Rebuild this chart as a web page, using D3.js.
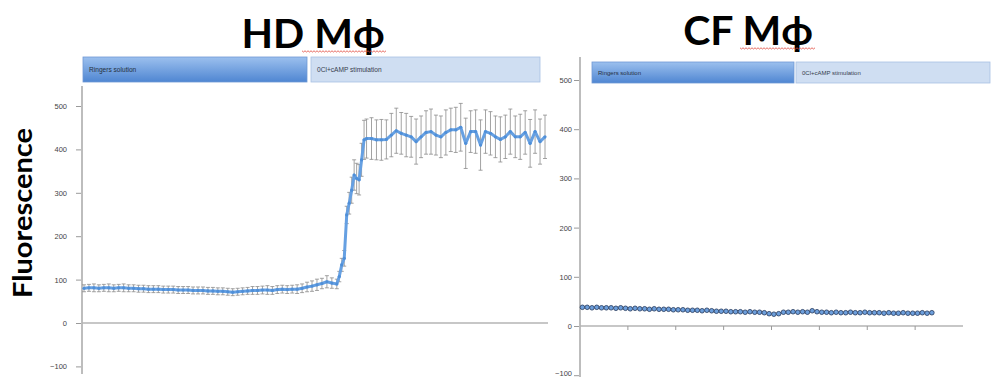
<!DOCTYPE html>
<html>
<head>
<meta charset="utf-8">
<script src="https://cdn.jsdelivr.net/npm/d3@7"></script>
<style>
  html, body { margin: 0; padding: 0; background: #fff; }
  svg { display: block; }
</style>
</head>
<body>
<svg id="chart" width="994" height="377"></svg>
<script>
// ---- data -----------------------------------------------------------------
const yTicks = [-100, 0, 100, 200, 300, 400, 500];
const phaseLabels = ["Ringers solution", "0Cl+cAMP stimulation"];
const panelTitles = ["HD M\u03d5", "CF M\u03d5"];
const axisTitle = "Fluorescence";

// HD macrophages: time index, mean fluorescence and error
const hdTime = [
  0, 1, 2, 3, 4, 5, 6, 7, 8, 9, 10,
  11, 12, 13, 14, 15, 16, 17, 18, 19, 20,
  21, 22, 23, 24, 25, 26, 27, 28, 29, 30,
  31, 32, 33, 34, 35, 36, 37, 38, 39, 40,
  41, 42, 43, 44, 45, 46, 47, 48, 49, 50, 51,
  51.5, 52, 52.5, 53, 53.5, 54, 54.5, 55, 55.5, 56, 56.5,
  57, 58, 59, 60, 61, 62, 63, 64, 65, 66, 67, 68, 69, 70, 71, 72, 73, 74,
  75, 76, 77, 78, 79, 80, 81, 82, 83, 84, 85, 86, 87, 88, 89, 90, 91, 92, 93
];
const hdMean = [
  80, 81, 81, 80, 81, 81, 80, 81, 81, 80, 80,
  79, 79, 78, 78, 78, 77, 77, 77, 76, 76,
  76, 75, 75, 75, 74, 74, 73, 73, 72, 71,
  72, 73, 74, 75, 75, 76, 76, 75, 77, 78,
  77, 78, 78, 80, 83, 85, 88, 91, 95, 92, 90,
  107, 134, 149, 249, 276, 306, 341, 333, 330, 376, 422,
  425, 425, 422, 422, 423, 433, 443, 437, 433, 429, 418, 429, 439, 441, 433, 429, 439, 445,
  445, 451, 414, 441, 441, 410, 441, 437, 429, 423, 429, 441, 429, 429, 439, 414, 441, 418, 429
];
const hdErr = [
  8, 8, 9, 8, 8, 9, 8, 8, 9, 8, 8,
  8, 8, 8, 8, 8, 8, 8, 8, 8, 8,
  8, 8, 8, 8, 8, 8, 8, 8, 8, 8,
  8, 8, 8, 9, 9, 9, 10, 9, 9, 9,
  9, 9, 10, 10, 11, 12, 13, 12, 14, 12, 11,
  12, 15, 18, 20, 25, 30, 35, 35, 35, 38, 45,
  45, 48, 46, 47, 45, 50, 52, 48, 50, 47, 52, 48, 50, 52, 46, 48, 52, 50,
  52, 55, 58, 48, 50, 58, 50, 50, 48, 52, 50, 52, 48, 52, 50, 55, 50, 52, 50
];

// CF macrophages: mean fluorescence per time point
const cfMean = [
  38, 38, 37, 38, 37, 37, 37, 36, 37,
  36, 35, 36, 35, 35, 34, 35, 34, 34, 34,
  33, 33, 33, 32, 32, 32, 31, 32, 31,
  30, 30, 30, 29, 29, 29, 28, 29, 28, 28, 27,
  25, 24, 25,
  28, 28, 29, 28, 29, 28, 31, 29, 28,
  28, 27, 28, 27, 27, 28, 27, 27, 28, 27,
  27, 27, 26, 27, 26, 26, 27, 26, 26, 26, 27, 26, 27
];
const cfErr = [
  4, 4, 4, 4, 4, 4, 4, 4, 4,
  4, 4, 4, 4, 4, 4, 4, 4, 4, 4,
  4, 4, 4, 4, 4, 4, 4, 4, 4,
  4, 4, 4, 4, 4, 4, 4, 4, 4, 4, 4,
  4, 4, 4,
  4, 4, 4, 4, 4, 4, 4, 4, 4,
  4, 4, 4, 4, 4, 4, 4, 4, 4, 4,
  4, 4, 4, 4, 4, 4, 4, 4, 4, 4, 4, 4, 4
];
const cfCategoryCount = 80;
const cfTickEvery = 10;

// ---- drawing --------------------------------------------------------------
const svg = d3.select("#chart");
svg.append("rect").attr("width", 994).attr("height", 377).attr("fill", "#fff");

const defs = svg.append("defs");
const grad = defs.append("linearGradient").attr("id", "phaseBlue")
  .attr("x1", 0).attr("y1", 0).attr("x2", 0).attr("y2", 1);
grad.append("stop").attr("offset", "0%").attr("stop-color", "#9cc0ee");
grad.append("stop").attr("offset", "100%").attr("stop-color", "#4f86d2");

const labelFont = "'Liberation Sans', Arial, sans-serif";
const titleFont = "Lato, 'Open Sans', sans-serif";
const lineBlue = "#66a0e2";

function phaseBar(g, x0, x1, x2, x3, y0, y1, fs) {
  g.append("rect").attr("x", x0).attr("y", y0).attr("width", x1 - x0).attr("height", y1 - y0)
    .attr("fill", "url(#phaseBlue)").attr("stroke", "#6f98d4").attr("stroke-width", 0.8);
  g.append("rect").attr("x", x2).attr("y", y0).attr("width", x3 - x2).attr("height", y1 - y0)
    .attr("fill", "#cfdef2").attr("stroke", "#a8c1e4").attr("stroke-width", 0.8);
  g.append("text").attr("x", x0 + 6).attr("y", (y0 + y1) / 2 + 2.5)
    .attr("font-family", labelFont).attr("font-size", fs).attr("fill", "#26303e")
    .text(phaseLabels[0]);
  g.append("text").attr("x", x2 + 6).attr("y", (y0 + y1) / 2 + 2.5)
    .attr("font-family", labelFont).attr("font-size", fs).attr("fill", "#36404e")
    .text(phaseLabels[1]);
}

function panelTitle(text, cx, baseline, squiggleX0, squiggleX1) {
  svg.append("text").attr("x", cx).attr("y", baseline).attr("text-anchor", "middle")
    .attr("font-family", titleFont).attr("font-weight", 700).attr("font-size", 41)
    .attr("fill", "#000").text(text);
  // spell-check style wavy underline
  const pts = d3.range(squiggleX0, squiggleX1 + 0.1, 1.5).map((x, i) => [x, baseline + 3 + (i % 2 ? 1 : -0.2)]);
  svg.append("path").attr("d", d3.line()(pts)).attr("fill", "none")
    .attr("stroke", "#e0453a").attr("stroke-width", 0.8);
}

function yAxis(g, y, axisX, top, bottom, labelRight) {
  g.append("line").attr("x1", axisX).attr("x2", axisX).attr("y1", top).attr("y2", bottom)
    .attr("stroke", "#bdbdbd").attr("stroke-width", 2);
  const ax = g.append("g").attr("transform", `translate(${axisX - 1},0)`)
    .call(d3.axisLeft(y).tickValues(yTicks).tickSize(5).tickPadding(axisX - 1 - 5 - labelRight));
  ax.select(".domain").remove();
  ax.selectAll(".tick line").attr("stroke", "#9a9a9a");
  ax.selectAll(".tick text").attr("font-family", labelFont).attr("font-size", 7.5)
    .attr("fill", "#444");
  return ax;
}

// ===== HD panel =====
const hd = svg.append("g");
const xHD = d3.scaleLinear().domain([0, 93]).range([84, 545]);
const yHD = d3.scaleLinear().domain([-100, 500]).range([366.4, 106]);

panelTitle(panelTitles[0], 313, 48, 302, 386);
phaseBar(hd, 83, 307, 311, 540, 57, 82, 6.6);
yAxis(hd, yHD, 82, 86, 374, 67);

// zero line
hd.append("line").attr("x1", 82).attr("x2", 548).attr("y1", yHD(0)).attr("y2", yHD(0))
  .attr("stroke", "#b4b4b4").attr("stroke-width", 1.5);

const hdData = hdTime.map((t, i) => ({ t, m: hdMean[i], e: hdErr[i] }));

// error bars
const eb = hd.append("g").attr("stroke", "#8c8c8c").attr("stroke-width", 0.8);
eb.selectAll("line.v").data(hdData).join("line").attr("class", "v")
  .attr("x1", d => xHD(d.t)).attr("x2", d => xHD(d.t))
  .attr("y1", d => yHD(d.m + d.e)).attr("y2", d => yHD(d.m - d.e));
eb.selectAll("line.top").data(hdData).join("line").attr("class", "top")
  .attr("x1", d => xHD(d.t) - 2).attr("x2", d => xHD(d.t) + 2)
  .attr("y1", d => yHD(d.m + d.e)).attr("y2", d => yHD(d.m + d.e));
eb.selectAll("line.bot").data(hdData).join("line").attr("class", "bot")
  .attr("x1", d => xHD(d.t) - 2).attr("x2", d => xHD(d.t) + 2)
  .attr("y1", d => yHD(d.m - d.e)).attr("y2", d => yHD(d.m - d.e));

hd.append("path").datum(hdData)
  .attr("d", d3.line().x(d => xHD(d.t)).y(d => yHD(d.m)))
  .attr("fill", "none").attr("stroke", lineBlue).attr("stroke-width", 3)
  .attr("stroke-linejoin", "round");
hd.selectAll("circle").data(hdData).join("circle")
  .attr("cx", d => xHD(d.t)).attr("cy", d => yHD(d.m)).attr("r", 1.6)
  .attr("fill", "#4f8fd8");

// y axis title
svg.append("text")
  .attr("transform", "translate(32,213) rotate(-90)")
  .attr("text-anchor", "middle")
  .attr("font-family", titleFont).attr("font-weight", 700).attr("font-size", 26)
  .attr("textLength", 170).attr("lengthAdjust", "spacingAndGlyphs")
  .attr("fill", "#000").text(axisTitle);

// ===== CF panel =====
const cf = svg.append("g");
const xCF = d3.scaleBand().domain(d3.range(cfCategoryCount)).range([580, 963]);
const yCF = d3.scaleLinear().domain([-100, 500]).range([375.2, 80]);

panelTitle(panelTitles[1], 748, 45, 740, 816);
phaseBar(cf, 592, 794, 796, 990, 62, 83, 6);
const cfAxis = yAxis(cf, yCF, 580, 57, 377, 572);
// keep the lowest label inside the frame
cfAxis.selectAll(".tick text").filter(d => d === -100).attr("dy", "0.05em");

// x axis with ticks every 10 categories
cf.append("line").attr("x1", 580).attr("x2", 963).attr("y1", yCF(0)).attr("y2", yCF(0))
  .attr("stroke", "#b4b4b4").attr("stroke-width", 1.5);
cf.selectAll("line.xt").data(d3.range(cfTickEvery, cfCategoryCount, cfTickEvery)).join("line")
  .attr("class", "xt")
  .attr("x1", d => xCF(d)).attr("x2", d => xCF(d))
  .attr("y1", yCF(0)).attr("y2", yCF(0) + 4)
  .attr("stroke", "#9a9a9a").attr("stroke-width", 1);

const cfData = cfMean.map((m, i) => ({ i, m, e: cfErr[i] }));
const cx = d => xCF(d.i) + xCF.bandwidth() / 2;
cf.append("g").attr("stroke", "#c8c8c8").attr("stroke-width", 0.6)
  .selectAll("line").data(cfData).join("line")
  .attr("x1", cx).attr("x2", cx)
  .attr("y1", d => yCF(d.m + d.e)).attr("y2", d => yCF(d.m - d.e));
cf.selectAll("circle").data(cfData).join("circle")
  .attr("cx", cx).attr("cy", d => yCF(d.m)).attr("r", 2.3)
  .attr("fill", "#6d9fdc").attr("stroke", "#24395c").attr("stroke-width", 0.8);
</script>
</body>
</html>
